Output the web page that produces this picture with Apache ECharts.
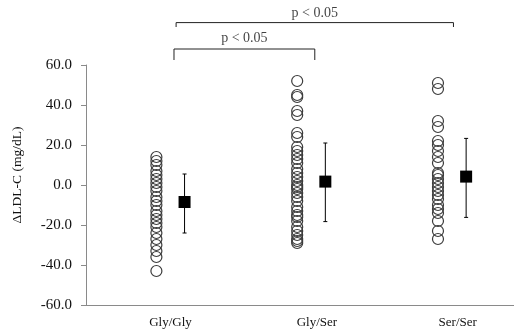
<!DOCTYPE html>
<html>
<head>
<meta charset="utf-8">
<title>LDL-C change by genotype</title>
<script src="https://cdn.jsdelivr.net/npm/echarts@6/dist/echarts.min.js"></script>
<style>
  html, body { margin: 0; padding: 0; background: #fff; }
  #main { width: 514px; height: 335px; }
</style>
</head>
<body>
<div id="main"></div>
<script>
// groups
var categories = ['Gly/Gly', 'Gly/Ser', 'Ser/Ser'];

// individual values (mg/dL)
var glyGly = [14, 12, 10, 7, 5, 3, 1, -1, -3, -6, -8, -10, -13, -15, -17, -19, -21, -24, -27, -30, -33, -36, -43];
var glySer = [52, 45, 44, 37, 35, 26, 24, 19, 17, 15, 13, 11, 8, 6, 4, 2, 0, -1, -2, -4, -6, -8, -11, -13, -15, -16, -18, -21, -23, -25, -27, -28, -29];
var serSer = [51, 48, 32, 29, 22, 20, 17, 14, 11, 6, 5, 3, 1, -1, -3, -5, -7, -10, -12, -14, -18, -23, -27];

// mean and error bar ends
var means = [-8.5, 1.7, 4.2];
var barLow = [-24, -18.3, -16.2];
var barHigh = [5.5, 21, 23.3];

// significance brackets: [from, to, text]
var brackets = [
  [0.625, 1.625, 'p < 0.05'],
  [0.64, 2.61, 'p < 0.05']
];

var serif = '"Liberation Serif", "Times New Roman", serif';
var groups = [glyGly, glySer, serSer];

var dots = [];
groups.forEach(function (arr, i) {
  arr.forEach(function (v) { dots.push([i + 0.5, v]); });
});
var meanPts = means.map(function (m, i) { return [i + 0.7, m]; });
var errData = means.map(function (m, i) { return [i + 0.7, barLow[i], barHigh[i]]; });

// bracket drawing above the plot (outside the axis range, clip off)
var bracketSeries = [];
var bracketLevels = [[68, 62.5, 73.5], [81.2, 79, 86]]; // bar, tick end, text
brackets.forEach(function (b, k) {
  var lv = bracketLevels[k];
  bracketSeries.push({
    type: 'line',
    clip: false,
    silent: true,
    symbol: 'none',
    lineStyle: { color: '#222', width: 1 },
    data: [[b[0], lv[1]], [b[0], lv[0]], [b[1], lv[0]], [b[1], lv[1]]],
    z: 5
  });
  bracketSeries.push({
    type: 'scatter',
    clip: false,
    silent: true,
    symbolSize: 0,
    label: {
      show: true, position: 'inside', formatter: b[2],
      color: '#111', fontFamily: serif, fontSize: 14
    },
    data: [[(b[0] + b[1]) / 2, lv[2]]]
  });
});

var chart = echarts.init(document.getElementById('main'));

var option = {
  animation: false,
  backgroundColor: '#fff',
  grid: { left: 86, right: 0, top: 65, bottom: 30 },
  xAxis: {
    type: 'value',
    min: 0,
    max: 3.04,
    splitLine: { show: false },
    axisLine: { show: true, onZero: false, lineStyle: { color: '#8a8a8a', width: 1 } },
    axisTick: { show: false },
    axisLabel: {
      customValues: [0.6, 1.64, 2.64],
      formatter: function (v) { return categories[Math.floor(v)]; },
      margin: 11,
      color: '#111',
      fontFamily: serif,
      fontSize: 13
    }
  },
  yAxis: {
    type: 'value',
    min: -60,
    max: 60,
    interval: 20,
    name: 'ΔLDL-C (mg/dL)',
    nameLocation: 'middle',
    nameGap: 62,
    nameTextStyle: { color: '#111', fontFamily: serif, fontSize: 13.5, padding: [0, 0, 0, 20] },
    splitLine: { show: false },
    axisLine: { show: true, lineStyle: { color: '#8a8a8a', width: 1 } },
    axisTick: { show: true, length: 5, inside: false, lineStyle: { color: '#8a8a8a' } },
    axisLabel: {
      margin: 14,
      color: '#111',
      fontFamily: serif,
      fontSize: 15,
      formatter: function (v) { return v.toFixed(1); }
    }
  },
  series: [
    {
      type: 'scatter',
      symbol: 'circle',
      symbolSize: 11,
      itemStyle: { color: 'rgba(0,0,0,0)', borderColor: '#3c3c3c', borderWidth: 1.2, opacity: 1 },
      data: dots,
      z: 2
    },
    {
      type: 'custom',
      renderItem: function (params, api) {
        var top = api.coord([api.value(0), api.value(2)]);
        var bot = api.coord([api.value(0), api.value(1)]);
        var cap = 2;
        return {
          type: 'group',
          children: [
            { type: 'line', shape: { x1: top[0], y1: top[1], x2: bot[0], y2: bot[1] }, style: { stroke: '#000', lineWidth: 1 } },
            { type: 'line', shape: { x1: top[0] - cap, y1: top[1], x2: top[0] + cap, y2: top[1] }, style: { stroke: '#000', lineWidth: 1 } },
            { type: 'line', shape: { x1: bot[0] - cap, y1: bot[1], x2: bot[0] + cap, y2: bot[1] }, style: { stroke: '#000', lineWidth: 1 } }
          ]
        };
      },
      encode: { x: 0, y: [1, 2] },
      data: errData,
      z: 3
    },
    {
      type: 'scatter',
      symbol: 'rect',
      symbolSize: 12,
      itemStyle: { color: '#000', opacity: 1 },
      data: meanPts,
      z: 4
    }
  ].concat(bracketSeries)
};

chart.setOption(option);
</script>
</body>
</html>
